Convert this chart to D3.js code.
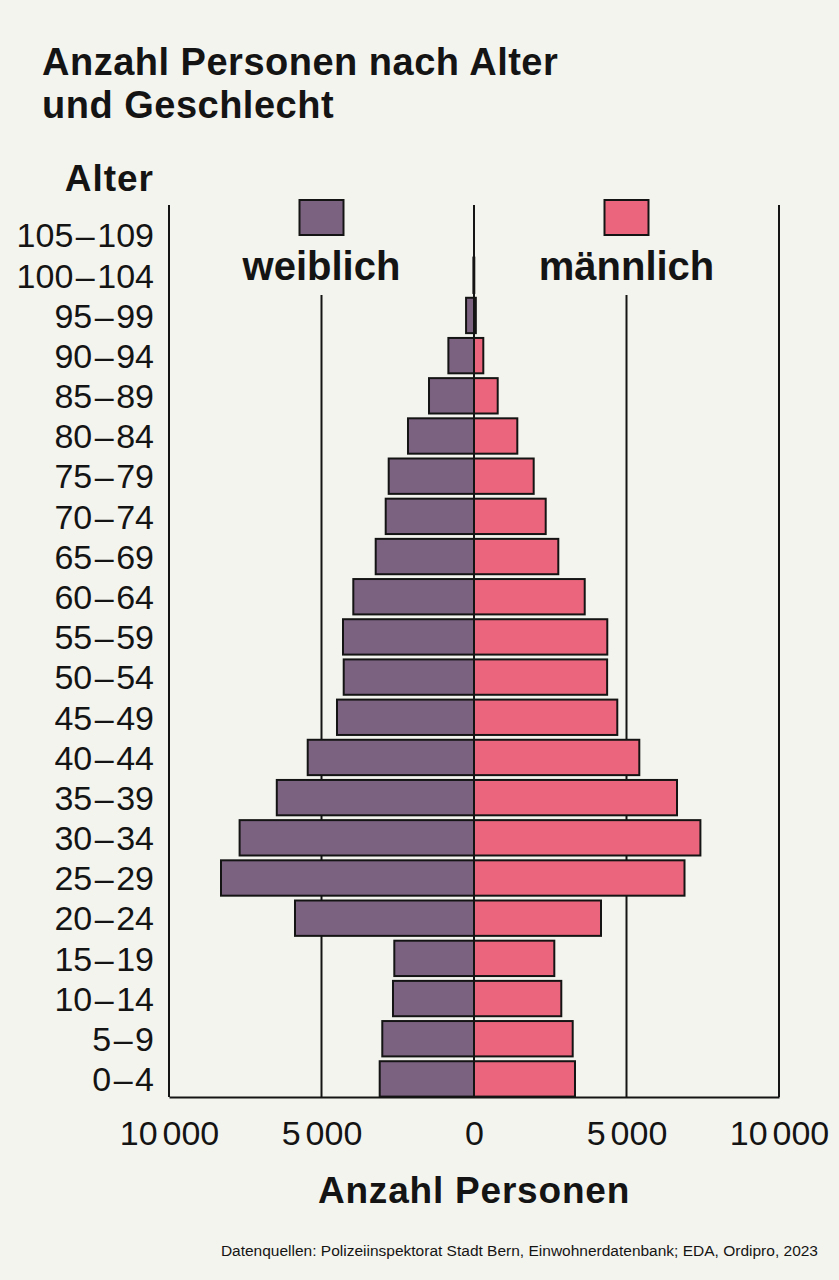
<!DOCTYPE html>
<html>
<head>
<meta charset="utf-8">
<script src="https://cdn.jsdelivr.net/npm/d3@7"></script>
<style>
  html, body { margin: 0; padding: 0; background: #f4f4ef; }
  svg { display: block; font-family: "Liberation Sans", Arial, sans-serif; }
</style>
</head>
<body>
<svg id="chart" width="839" height="1280"></svg>
<script>
// Age groups, bottom (youngest) to top (oldest)
const ageGroups = ["0–4","5–9","10–14","15–19","20–24","25–29","30–34","35–39","40–44","45–49",
  "50–54","55–59","60–64","65–69","70–74","75–79","80–84","85–89","90–94","95–99","100–104","105–109"];
const female = [3092, 3007, 2656, 2613, 5869, 8295, 7685, 6466, 5452, 4492,
  4272, 4295, 3957, 3223, 2895, 2797, 2164, 1475, 840, 260, 20, 0];
const male = [3311, 3236, 2862, 2633, 4164, 6902, 7423, 6656, 5420, 4698,
  4365, 4370, 3630, 2764, 2351, 1957, 1420, 777, 305, 60, 10, 0];
const xTicks = [-10000, -5000, 0, 5000, 10000];
const seriesNames = ["weiblich", "männlich"];
const titleLines = ["Anzahl Personen nach Alter", "und Geschlecht"];
const yTitle = "Alter";
const xTitle = "Anzahl Personen";
const source = "Datenquellen: Polizeiinspektorat Stadt Bern, Einwohnerdatenbank; EDA, Ordipro, 2023";

const colF = "#7c6281", colM = "#eb667c", ink = "#141414";
const svg = d3.select("#chart");
svg.append("rect").attr("width", 839).attr("height", 1280).attr("fill", "#f4f4ef");

const x = d3.scaleLinear().domain([-10000, 10000]).range([169, 779]);
const y = d3.scaleBand().domain(ageGroups.slice().reverse()).range([215, 1099])
  .paddingInner(0.12).paddingOuter(0.06);
const baseY = 1097;

// Title
svg.append("g").selectAll("text").data(titleLines).join("text")
  .attr("x", 42).attr("y", (d, i) => 75 + i * 43)
  .attr("font-size", 38).attr("font-weight", "bold").attr("letter-spacing", 0.5)
  .attr("fill", ink).text(d => d);

// Grid lines
const gridTop = v => (Math.abs(v) === 5000 ? 295 : 205);
svg.append("g").selectAll("line").data(xTicks.filter(v => v !== 0)).join("line")
  .attr("x1", d => x(d)).attr("x2", d => x(d))
  .attr("y1", d => gridTop(d)).attr("y2", baseY)
  .attr("stroke", ink).attr("stroke-width", 2);

// Bars
const rows = ageGroups.map((a, i) => ({ age: a, f: female[i], m: male[i] }));
const bars = svg.append("g");
bars.selectAll("rect.f").data(rows.filter(d => d.f > 0)).join("rect").attr("class", "f")
  .attr("x", d => x(-d.f)).attr("width", d => x(0) - x(-d.f))
  .attr("y", d => y(d.age)).attr("height", y.bandwidth())
  .attr("fill", colF).attr("stroke", ink).attr("stroke-width", 2);
bars.selectAll("rect.m").data(rows.filter(d => d.m > 0)).join("rect").attr("class", "m")
  .attr("x", x(0)).attr("width", d => x(d.m) - x(0))
  .attr("y", d => y(d.age)).attr("height", y.bandwidth())
  .attr("fill", colM).attr("stroke", ink).attr("stroke-width", 2);

// Center line
svg.append("line").attr("x1", x(0)).attr("x2", x(0)).attr("y1", 205).attr("y2", baseY)
  .attr("stroke", ink).attr("stroke-width", 2);

// X axis
const fmt = v => {
  const s = String(Math.abs(v));
  return s.length > 3 ? [s.slice(0, -3), s.slice(-3)] : [s];
};
const xAxis = svg.append("g").attr("transform", `translate(0,${baseY})`)
  .call(d3.axisBottom(x).tickValues(xTicks).tickSize(0).tickSizeOuter(0).tickPadding(24).tickFormat(() => ""));
xAxis.select(".domain").attr("stroke", ink).attr("stroke-width", 2);
xAxis.selectAll(".tick text").each(function(d) {
  const t = d3.select(this).attr("font-size", 34).attr("font-family", "Liberation Sans, Arial, sans-serif").attr("fill", ink);
  const parts = fmt(d);
  parts.forEach((p, i) => t.append("tspan").attr("dx", i ? 5 : 0).text(p));
});

// Y axis labels
const yAxis = svg.append("g").attr("transform", "translate(154,0)")
  .call(d3.axisLeft(y).tickSize(0).tickPadding(0).tickFormat(() => ""));
yAxis.select(".domain").remove();
yAxis.selectAll(".tick text").each(function(d) {
  const t = d3.select(this).attr("font-size", 34).attr("font-family", "Liberation Sans, Arial, sans-serif")
    .attr("fill", ink).attr("dy", "0.36em");
  const parts = d.split("–");
  t.append("tspan").text(parts[0]);
  t.append("tspan").attr("dx", 2.5).text("–");
  t.append("tspan").attr("dx", 2.5).text(parts[1]);
});

// Y title
svg.append("text").attr("x", 154).attr("y", 191).attr("text-anchor", "end")
  .attr("font-size", 37).attr("font-weight", "bold").attr("letter-spacing", 1).attr("fill", ink).text(yTitle);

// Legend
const legend = svg.append("g").selectAll("g").data(seriesNames).join("g")
  .attr("transform", (d, i) => `translate(${x(i ? 5000 : -5000)},0)`);
legend.append("rect").attr("x", -22).attr("y", 200).attr("width", 44).attr("height", 35)
  .attr("fill", (d, i) => i ? colM : colF).attr("stroke", ink).attr("stroke-width", 2);
legend.append("text").attr("x", 0).attr("y", 280).attr("text-anchor", "middle")
  .attr("font-size", 40).attr("font-weight", "bold").attr("fill", ink).text(d => d);

// X title
svg.append("text").attr("x", 474).attr("y", 1203).attr("text-anchor", "middle")
  .attr("font-size", 37).attr("font-weight", "bold").attr("letter-spacing", 0.8).attr("fill", ink).text(xTitle);

// Source
svg.append("text").attr("x", 818).attr("y", 1256).attr("text-anchor", "end")
  .attr("font-size", 15.5).attr("fill", ink).text(source);
</script>
</body>
</html>
